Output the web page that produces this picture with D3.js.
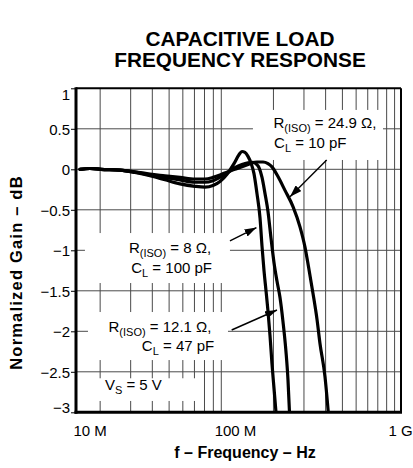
<!DOCTYPE html>
<html><head><meta charset="utf-8">
<script src="https://cdn.jsdelivr.net/npm/d3@7"></script>
<style>
html,body{margin:0;padding:0;background:#fff;}
svg{display:block;font-family:"Liberation Sans",Arial,Helvetica,sans-serif;}
</style></head><body>
<svg id="chart" width="413" height="468"></svg>
<script>
// ---------- data (frequency in MHz, normalized gain in dB) ----------
const freqR8 = [15.30,17.47,20.22,26.03,31.77,38.78,47.33,57.77,70.51,80.54,89.56,98.29,107.9,118.4,126.5,131.6,137.0,142.6,148.3,154.3,160.7,167.3,171.8,176.4,181.2,186.0,191.0,196.1,201.4,206.9];
const gainR8 = [0,0.01,0,-0.01,-0.04,-0.08,-0.13,-0.18,-0.21,-0.22,-0.2,-0.15,-0.06,0.07,0.18,0.22,0.21,0.16,0.08,-0.05,-0.3,-0.6,-0.95,-1.25,-1.5,-1.75,-2.05,-2.4,-2.7,-3.0];

const freqR12 = [15.30,17.47,20.22,26.03,31.77,38.78,47.33,57.77,70.51,80.54,89.56,98.29,109.3,119.9,131.6,142.6,152.3,158.6,165.1,171.8,178.8,186.0,193.6,201.4,209.6,218.1,227.0,236.2,242.6,247.5];
const gainR12 = [0,0.01,0,-0.01,-0.035,-0.07,-0.1,-0.13,-0.16,-0.16,-0.14,-0.1,-0.04,0.02,0.06,0.08,0.085,0.07,0.02,-0.1,-0.3,-0.52,-0.85,-1.15,-1.38,-1.58,-1.88,-2.25,-2.6,-3.0];

const freqR25 = [15.30,17.47,20.22,26.03,31.77,38.78,47.33,57.77,70.51,80.54,89.56,98.29,109.3,119.9,131.6,146.4,160.7,174.1,186.0,196.1,212.4,233.1,259.3,284.5,304.1,318.5,338.1,356.6,371.1,396.6,414.4];
const gainR25 = [0,0.01,0,-0.01,-0.03,-0.06,-0.08,-0.1,-0.12,-0.12,-0.1,-0.07,-0.03,0.0,0.03,0.07,0.09,0.09,0.07,0.03,-0.09,-0.26,-0.46,-0.71,-0.96,-1.2,-1.53,-1.85,-2.15,-2.56,-3.0];

const yTicks = [1,0.5,0,-0.5,-1,-1.5,-2,-2.5,-3];
const yTickLabels = ["1","0.5","0","\u22120.5","\u22121","\u22121.5","\u22122","\u22122.5","\u22123"];
const yGrid = [0.5,0,-0.5,-1,-1.5,-2,-2.5];
const xTicks = [10,100,1000];
const xTickLabels = ["10 M","100 M","1 G"];
const xGrid = [20,30,40,50,60,70,80,90,100,200,300,400,500,600,700,800,900,1000];

const titleLines = ["CAPACITIVE LOAD","FREQUENCY RESPONSE"];
const xTitle = "f \u2013 Frequency \u2013 Hz";
const yTitle = "Normalized Gain \u2013 dB";

// annotations (anchored in data units)
const noteParts = [
  ["R","(ISO)"," = 24.9 \u03A9,"],["C","L"," = 10 pF"],
  ["R","(ISO)"," = 8 \u03A9,"],["C","L"," = 100 pF"],
  ["R","(ISO)"," = 12.1 \u03A9,"],["C","L"," = 47 pF"],
  ["V","S"," = 5 V"]
];
const noteFreq = [396.6,326.3,50.6,51.7,44.3,56.3,31.1];
const noteGain = [0.514,0.267,-1.037,-1.284,-2.009,-2.24,-2.725];
const boxFreq0 = [152.3,16.34,17.01,14.51];
const boxFreq1 = [857.3,112.2,109.3,75.36];
const boxGain0 = [0.733,-0.787,-1.762,-2.58];
const boxGain1 = [0.115,-1.404,-2.355,-2.86];
const arrowFromFreq = [405.7,112.2,114.8];
const arrowFromGain = [0.115,-0.885,-1.984];
const arrowToFreq = [249.2,159.6,209.6];
const arrowToGain = [-0.338,-0.719,-1.737];

// ---------- layout ----------
const plot = {left:76, right:401, top:88.3, bottom:412.3};
const xTickDx = [41.7,13.7,5.5];
const yTickDy = [6,0,0,0,0,0,0,0,-5.5];

const svg = d3.select("#chart");
const x = d3.scaleLog().domain([14.51,1089]).range([plot.left,plot.right]);
const y = d3.scaleLinear().domain([-3,1]).range([plot.bottom,plot.top]);

// title
svg.append("g").selectAll("text").data(titleLines).join("text")
  .attr("x",240).attr("y",(d,i)=>46+i*20.7)
  .attr("text-anchor","middle").attr("font-weight","bold").attr("font-size",20.8)
  .text(d=>d);

// grid
const grid = svg.append("g").attr("stroke","#4a4a4a").attr("stroke-width",1);
grid.selectAll("line.v").data(xGrid).join("line").attr("class","v")
  .attr("x1",d=>x(d)).attr("x2",d=>x(d)).attr("y1",plot.top).attr("y2",plot.bottom);
grid.selectAll("line.h").data(yGrid).join("line").attr("class","h")
  .attr("x1",plot.left).attr("x2",plot.right).attr("y1",d=>y(d)).attr("y2",d=>y(d));

// white boxes behind labels
svg.append("g").selectAll("rect").data(boxFreq0).join("rect")
  .attr("x",(d,i)=>x(d)).attr("width",(d,i)=>x(boxFreq1[i])-x(d))
  .attr("y",(d,i)=>y(boxGain0[i])).attr("height",(d,i)=>y(boxGain1[i])-y(boxGain0[i]))
  .attr("fill","#fff");

// curves
svg.append("defs").append("clipPath").attr("id","clip").append("rect")
  .attr("x",plot.left).attr("y",plot.top).attr("width",plot.right-plot.left).attr("height",plot.bottom-plot.top);
const line = d3.line().x(d=>x(d[0])).y(d=>y(d[1])).curve(d3.curveMonotoneX);
const series = [[freqR8,gainR8],[freqR12,gainR12],[freqR25,gainR25]];
svg.append("g").attr("clip-path","url(#clip)").selectAll("path").data(series).join("path")
  .attr("d",s=>line(s[0].map((f,i)=>[f,s[1][i]])))
  .attr("fill","none").attr("stroke","#000").attr("stroke-width",3.2)
  .attr("stroke-linejoin","round").attr("stroke-linecap","round");

// annotation texts
const notes = svg.append("g").attr("font-size",15).attr("fill","#000");
noteParts.forEach((p,i)=>{
  const t = notes.append("text").attr("x",x(noteFreq[i])).attr("y",y(noteGain[i])).attr("text-anchor","middle");
  t.append("tspan").text(p[0]);
  t.append("tspan").attr("font-size",11).attr("dy",4).text(p[1]);
  t.append("tspan").attr("dy",-4).text(p[2]);
});

// arrows
const defs = svg.select("defs");
defs.append("marker").attr("id","ah").attr("viewBox","0 0 12 8").attr("refX",12).attr("refY",4)
  .attr("markerWidth",12).attr("markerHeight",8).attr("markerUnits","userSpaceOnUse").attr("orient","auto")
  .append("path").attr("d","M0,0L12,4L0,8Z").attr("fill","#000");
svg.append("g").selectAll("line").data(arrowFromFreq).join("line")
  .attr("x1",(d)=>x(d)).attr("y1",(d,i)=>y(arrowFromGain[i]))
  .attr("x2",(d,i)=>x(arrowToFreq[i])).attr("y2",(d,i)=>y(arrowToGain[i]))
  .attr("stroke","#000").attr("stroke-width",1.4).attr("marker-end","url(#ah)");

// axes
const yAxis = svg.append("g").attr("transform",`translate(${plot.left},0)`)
  .call(d3.axisLeft(y).tickValues(yTicks).tickSize(5).tickPadding(1).tickFormat((d,i)=>yTickLabels[i]));
yAxis.select(".domain").remove();
yAxis.attr("font-family",null);
yAxis.selectAll("line").attr("stroke","#000").attr("stroke-width",1);
yAxis.selectAll("text").attr("font-size",15).attr("fill","#000")
  .attr("dy",null).attr("dominant-baseline","central").attr("y",(d,i)=>yTickDy[i]);

const xAxis = svg.append("g").attr("transform",`translate(0,${plot.bottom})`)
  .call(d3.axisBottom(x).tickValues(xTicks).tickSize(0).tickPadding(13).tickFormat((d,i)=>xTickLabels[i]));
xAxis.select(".domain").remove();
xAxis.attr("font-family",null);
xAxis.selectAll("text").attr("font-size",15).attr("fill","#000").attr("dx",(d,i)=>xTickDx[i]);

// frame
svg.append("line").attr("x1",plot.left).attr("x2",plot.right).attr("y1",plot.top).attr("y2",plot.top).attr("stroke","#000").attr("stroke-width",2);
svg.append("line").attr("x1",plot.right).attr("x2",plot.right).attr("y1",plot.top).attr("y2",plot.bottom).attr("stroke","#000").attr("stroke-width",2);
svg.append("line").attr("x1",plot.left).attr("x2",plot.left).attr("y1",plot.top-1).attr("y2",plot.bottom+1.5).attr("stroke","#000").attr("stroke-width",3);
svg.append("line").attr("x1",plot.left-1.5).attr("x2",plot.right+1).attr("y1",plot.bottom).attr("y2",plot.bottom).attr("stroke","#000").attr("stroke-width",3);

// axis titles
svg.append("text").attr("x",245).attr("y",458).attr("text-anchor","middle")
  .attr("font-weight","bold").attr("font-size",16).text(xTitle);
svg.append("text").attr("transform","translate(21.5,272.5) rotate(-90)").attr("text-anchor","middle")
  .attr("font-weight","bold").attr("font-size",16.5).attr("letter-spacing",1.2).text(yTitle);
</script>
</body></html>
